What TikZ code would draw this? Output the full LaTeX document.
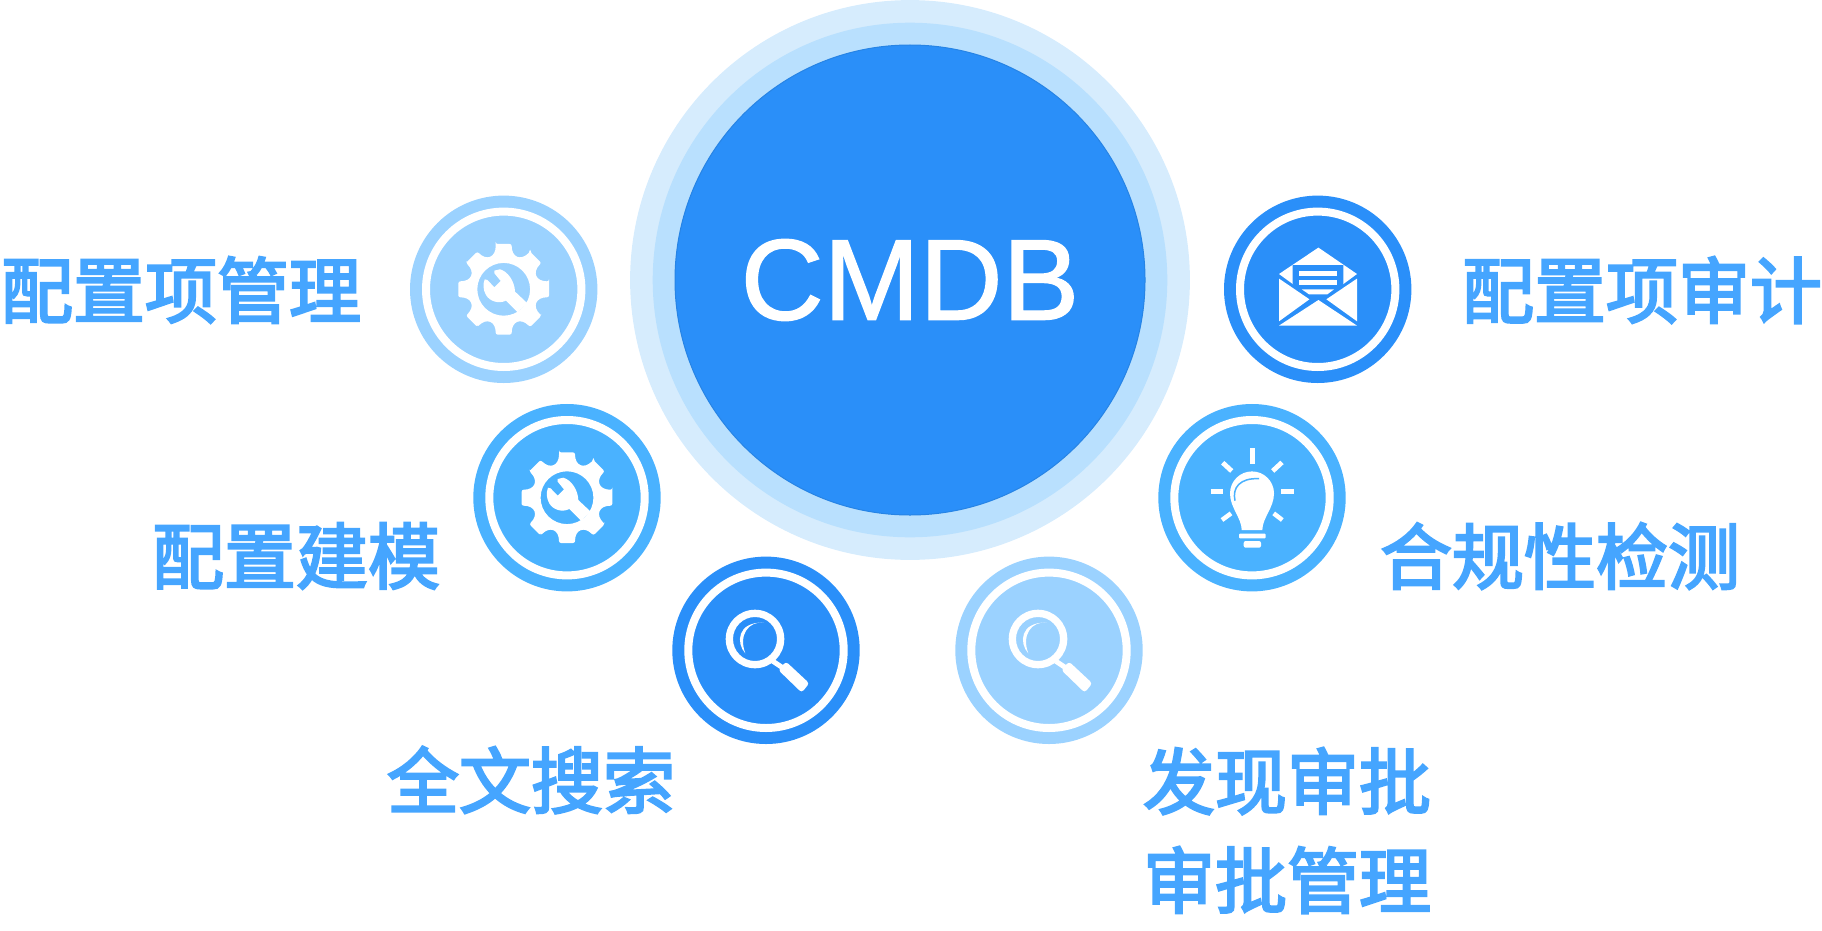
\documentclass[tikz,border=0pt]{standalone}
\usepackage{fontspec}
\usepackage{tikz}
\setmainfont{Liberation Sans}[FakeBold=1.2]
\newfontfamily\cjk{Noto Sans CJK SC}[FakeBold=3.2]
\definecolor{fonce}{HTML}{2A8FF9}
\definecolor{moyen}{HTML}{4AB2FF}
\definecolor{clair}{HTML}{9BD2FF}
\definecolor{texte}{HTML}{45A5FF}
\definecolor{halo}{HTML}{D6ECFD}
\definecolor{halomid}{HTML}{B9E0FE}
\tikzset{
  disque/.style={circle,inner sep=0pt,outer sep=0pt},
  badge/.style={disque,fill=#1,draw=#1,double=white,double distance=8pt,line width=12pt,minimum size=155.4pt},
  titre/.style={text=texte,inner sep=0pt,align=center,font=\cjk\fontsize{72}{99}\selectfont},
  pics/roue/.style={code={
    \fill[white,even odd rule,rounded corners=2pt] (-10:46)
      \foreach \a in {0,45,...,315}{
        -- (\a-10:46) -- (\a+10:46) .. controls (\a+14:33) and (\a+31:33) .. (\a+35:46)
      } -- cycle (0,0) circle (26.4);
    \fill[white] (-9.3,-18.7) -- (-3.7,-20) .. controls (4,-18) and (11,-8) .. (11.3,2.3)
      -- (23.7,14) -- (14,23) -- (2.3,11.3) .. controls (-5,15) and (-14,12) .. (-17.7,5.7)
      .. controls (-20.5,1) and (-21,-5) .. (-19,-10) -- (-16.3,-9.3) -- (-9.3,-2) -- (-3,-8.3)
      -- (-9.3,-16) -- cycle;
  }},
  pics/enveloppe/.style={code={
    \fill[white] (0.7,-41.7) -- (39.3,-15.3) -- (25.7,-5.3) -- (-25,-5.3) -- (-38.7,-15.3) -- cycle;
    \fill[#1] (-25,-24.3) -- (25.7,-24.3) -- (25.7,-5.3) -- (9,5.7) -- (-8.3,5.7) -- (-25,-5.3) -- cycle;
    \fill[white] (-18.7,-18.3) rectangle (19.7,-13.7);
    \fill[white] (-18.7,-9.3) rectangle (19.7,-4.7);
    \fill[white] (-16,0) -- (16.3,0) -- (9.7,5) -- (-8.7,5) -- cycle;
    \fill[white] (-38.7,-10.7) -- (-8.3,10) -- (-38.7,32) -- cycle;
    \fill[white] (39.3,-10.7) -- (8.7,10) -- (39.3,32) -- cycle;
    \fill[white] (-38.7,36.3) -- (0.7,10.7) -- (39.3,36.3) -- cycle;
  }},
  pics/ampoule/.style={code={
    \fill[white] (-10.3,32.3) .. controls (-10.5,20) and (-22,10) .. (-22,-4.3) arc (180:360:22)
      .. controls (22,10) and (10.5,20) .. (10.3,32.3) -- cycle;
    \draw[#1,line width=1.5pt] (-17,3) .. controls (-20,-10) and (-12,-20) .. (7,-19);
    \fill[white,rounded corners=1pt] (-13,36) rectangle (13.7,40.7);
    \fill[white,rounded corners=2pt] (-8.3,43.3) -- (9,43.3) -- (9,50) -- (-8.3,50) -- cycle;
    \draw[white,line width=4.8pt] (0.3,-49.3) -- (0.3,-33.7);
    \draw[white,line width=4.8pt] (-29.3,-35) -- (-20.3,-26.7);
    \draw[white,line width=4.8pt] (30,-35.3) -- (20.7,-26.7);
    \draw[white,line width=4.5pt] (-41.3,-6) -- (-28.7,-6);
    \draw[white,line width=4.5pt] (29,-6) -- (42,-6);
    \draw[white,line width=4.5pt] (-30,22.3) -- (-21,15.7);
    \draw[white,line width=4.5pt] (30.3,22.3) -- (21.7,15.7);
  }},
  pics/loupe/.style={code={
    \fill[white,even odd rule] (-11,-11.3) circle (29.3) (-11,-11.3) circle (22);
    \fill[white] (-20.7,3) .. controls (-30,-7) and (-29.3,-28.7) .. (-2,-27.7)
      .. controls (-17.7,-29.3) and (-27.7,-15.3) .. cycle;
    \draw[white,line width=5pt] (7,11) -- (16,17);
    \fill[white,rounded corners=3pt] (20,11.3) -- (43.3,33) -- (35.7,42.3) -- (12.3,19.7) -- cycle;
  }}
}
\begin{document}
\begin{tikzpicture}[x=1pt,y=-1pt]
  \useasboundingbox (0,0) rectangle (1822,931);

  % Centre.
  \node[disque,fill=halo,minimum size=559.8pt] (haloA) at (910,280) {};
  \node[disque,fill=halomid,minimum size=514.6pt] (haloB) at (910,280) {};
  \node[disque,fill=fonce,draw=fonce!92!black,line width=1pt,minimum size=470pt,text=white,font=\fontsize{115}{115}\selectfont] (cmdb) at (910,280) {CMDB};

  % Gauche.
  \node[badge=clair] (gestion) at (503.7,289.3) {};
  \pic at (gestion) {roue};
  \node[badge=moyen] (modele) at (567,497.7) {};
  \pic at (modele) {roue};
  \node[badge=fonce] (recherche) at (766,650.3) {};
  \pic at (recherche) {loupe};

  % Droite.
  \node[badge=fonce] (audit) at (1317.7,289.3) {};
  \pic at (audit) {enveloppe=fonce};
  \node[badge=moyen] (conforme) at (1252,497.7) {};
  \pic at (conforme) {ampoule=moyen};
  \node[badge=clair] (decouverte) at (1049,650.3) {};
  \pic at (decouverte) {loupe};

  % Titres.
  \node[titre] (tgestion) at (181,290) {配置项管理};
  \node[titre] (tmodele) at (296,556) {配置建模};
  \node[titre] (trecherche) at (531,780) {全文搜索};
  \node[titre] (taudit) at (1642,290) {配置项审计};
  \node[titre] (tconforme) at (1560,556) {合规性检测};
  \node[titre] (tdecouverte) at (1287,830.5) {发现审批\\审批管理};
\end{tikzpicture}
\end{document}
